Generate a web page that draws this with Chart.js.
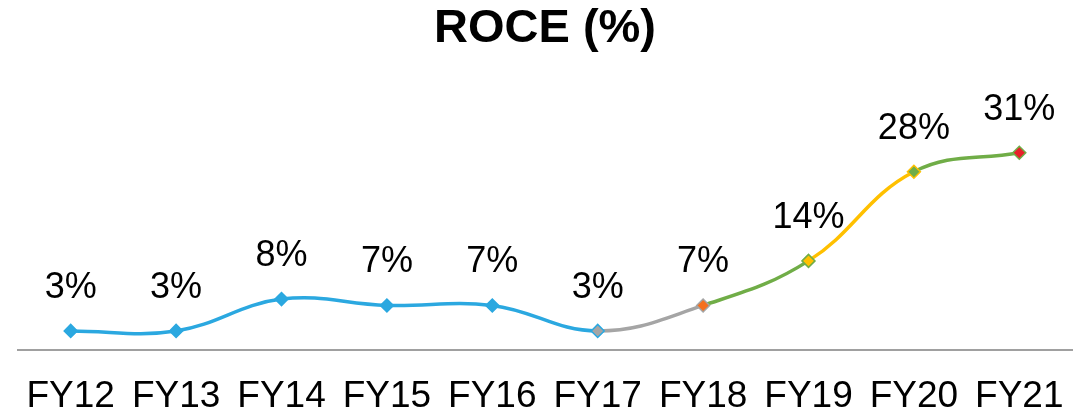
<!DOCTYPE html>
<html>
<head>
<meta charset="utf-8">
<script src="https://cdn.jsdelivr.net/npm/chart.js@4"></script>
<style>
  html, body { margin: 0; padding: 0; background: #fff; }
  #roceChart { display: block; }
</style>
</head>
<body>
<canvas id="roceChart" width="1087" height="413"></canvas>
<script>
// Chart data
const years = ['FY12', 'FY13', 'FY14', 'FY15', 'FY16', 'FY17', 'FY18', 'FY19', 'FY20', 'FY21'];
const roceValues = [3, 3, 8, 7, 7, 3, 7, 14, 28, 31];
const roceLabels = ['3%', '3%', '8%', '7%', '7%', '3%', '7%', '14%', '28%', '31%'];

// Colours of each line segment (segment i goes from point i to i+1)
const segmentColors = ['#2BA8E0', '#2BA8E0', '#2BA8E0', '#2BA8E0', '#2BA8E0', '#A5A5A5', '#70AD47', '#FFC000', '#70AD47'];
const markerFill = ['#2BA8E0', '#2BA8E0', '#2BA8E0', '#2BA8E0', '#2BA8E0', '#A5A5A5', '#F5701E', '#FFC000', '#70AD47', '#E8202A'];
const markerBorder = ['#2BA8E0', '#2BA8E0', '#2BA8E0', '#2BA8E0', '#2BA8E0', '#2BA8E0', '#A5A5A5', '#70AD47', '#FFC000', '#70AD47'];

const FONT = "'Liberation Sans', Arial, sans-serif";

// Draws the "x%" text above every point
const valueLabels = {
    id: 'valueLabels',
    afterDatasetsDraw(chart) {
        const ctx = chart.ctx;
        const meta = chart.getDatasetMeta(0);
        ctx.save();
        ctx.font = '36px ' + FONT;
        ctx.fillStyle = '#000';
        ctx.textAlign = 'center';
        ctx.textBaseline = 'alphabetic';
        meta.data.forEach((pt, i) => {
            ctx.fillText(roceLabels[i], pt.x, pt.y - 33);
        });
        ctx.restore();
    }
};

document.addEventListener('DOMContentLoaded', function () {
    const canvas = document.getElementById('roceChart');
    if (!canvas) {
        console.error('Chart canvas is missing.');
        return;
    }

    new Chart(canvas.getContext('2d'), {
        type: 'line',
        data: {
            labels: years,
            datasets: [{
                label: 'ROCE',
                data: roceValues,
                borderWidth: 3.5,
                tension: 0.4,
                borderColor: '#2BA8E0',
                segment: {
                    borderColor: c => segmentColors[c.p0DataIndex]
                },
                pointStyle: 'rectRot',
                pointRadius: 6.5,
                pointHoverRadius: 6.5,
                pointBorderWidth: 1.5,
                pointBackgroundColor: markerFill,
                pointBorderColor: markerBorder,
                fill: false
            }]
        },
        options: {
            responsive: false,
            devicePixelRatio: 1,
            animation: false,
            layout: { padding: { left: 18, right: 15, top: 0, bottom: 0 } },
            plugins: {
                legend: { display: false },
                tooltip: { enabled: false },
                title: {
                    display: true,
                    text: 'ROCE (%)',
                    color: '#000',
                    font: { family: FONT, size: 47, weight: 'bold', lineHeight: 1.2 },
                    padding: { top: 1, bottom: 10 }
                }
            },
            scales: {
                x: {
                    offset: true,
                    grid: { display: false, drawTicks: false },
                    border: { display: true, color: '#A0A0A0', width: 2 },
                    ticks: {
                        color: '#000',
                        font: { family: FONT, size: 37, lineHeight: 1.0 },
                        padding: 28,
                        maxRotation: 0,
                        autoSkip: false
                    },
                    afterFit: scale => {
                        scale.height = 63;
                        scale.paddingLeft = 0;
                        scale.paddingRight = 0;
                    }
                },
                y: {
                    display: false,
                    min: 0,
                    max: 44.4
                }
            }
        },
        plugins: [valueLabels]
    });
});
</script>
</body>
</html>
